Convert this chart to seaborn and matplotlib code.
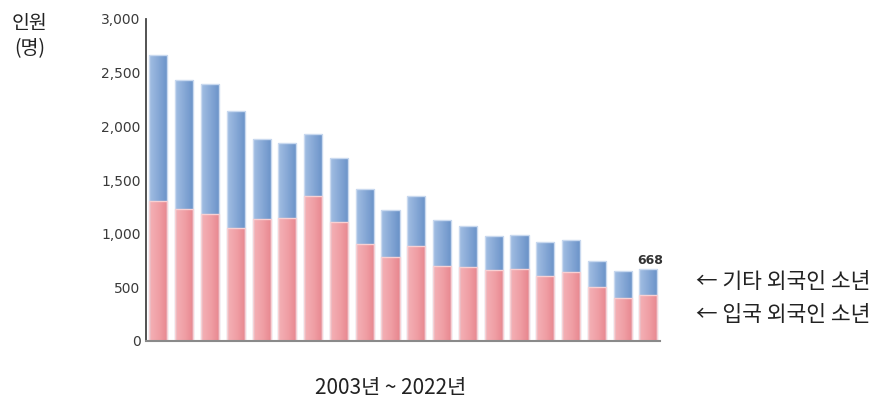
import numpy as np
import pandas as pd
import matplotlib
matplotlib.use("Agg")
import matplotlib.pyplot as plt
import seaborn as sns
from matplotlib.colors import LinearSegmentedColormap

# 2003~2022 juvenile foreign offenders
years = [str(y) for y in range(2003, 2023)]
entry = [1301, 1230, 1183, 1049, 1137, 1149, 1347, 1105, 904, 779,
         888, 696, 693, 665, 671, 609, 640, 504, 404, 429]
other = [1359, 1204, 1211, 1090, 747, 695, 581, 596, 515, 444,
         466, 428, 378, 310, 317, 313, 301, 238, 249, 239]
yticks = [0, 500, 1000, 1500, 2000, 2500, 3000]
last_label = "668"

df = pd.DataFrame({"year": years, "entry": entry, "other": other})
df["total"] = df["entry"] + df["other"]

sns.set_theme(style="white")
plt.rcParams["font.family"] = ["DejaVu Sans"]
kr = ["Noto Sans CJK KR", "DejaVu Sans"]

fig = plt.figure(figsize=(8.79, 4.0), dpi=100)
ax = fig.add_axes([0.1661, 0.1475, 0.5848, 0.805])

blue = "#7ea2d2"
red = "#ee9aa0"

sns.barplot(data=df, x="year", y="total", color=blue, width=0.7,
            edgecolor="#c9d9ef", linewidth=1.0, saturation=1, ax=ax)
n_blue = len(ax.patches)
sns.barplot(data=df, x="year", y="entry", color=red, width=0.7,
            edgecolor="#f8d0d3", linewidth=1.0, saturation=1, ax=ax)

# subtle left-to-right shading on every bar
grad = np.linspace(0, 1, 64).reshape(1, -1)
cm_blue = LinearSegmentedColormap.from_list("b", ["#a3bfe3", "#86a8d6", "#6a92c8"])
cm_red = LinearSegmentedColormap.from_list("r", ["#f4b2b7", "#f0a0a6", "#e8868e"])
for i, p in enumerate(ax.patches):
    x0, y0 = p.get_x(), p.get_y()
    w, h = p.get_width(), p.get_height()
    cm = cm_blue if i < n_blue else cm_red
    im = ax.imshow(grad, cmap=cm, aspect="auto", extent=[x0, x0 + w, y0, y0 + h],
                   zorder=p.get_zorder() + 0.1, interpolation="bilinear")
    im.set_clip_path(p)
    p.set_zorder(p.get_zorder() + 0.2)
    p.set_facecolor("none")

ax.set_xlim(-0.48, len(years) - 0.55)
ax.set_ylim(0, 3000)
ax.set_yticks(yticks)
ax.set_yticklabels([f"{v:,}" for v in yticks], fontsize=10, color="#3a3a3a")
ax.set_xticks([])
ax.set_xlabel("")
ax.set_ylabel("")
ax.tick_params(axis="y", direction="in", length=4, width=1.2, color="#444444", pad=4)

for s in ["top", "right"]:
    ax.spines[s].set_visible(False)
ax.spines["left"].set_color("#444444")
ax.spines["left"].set_linewidth(1.3)
ax.spines["bottom"].set_color("#8a8a8a")
ax.spines["bottom"].set_linewidth(1.5)

# value on last bar
last = len(years) - 1
ax.text(last + 0.05, df["total"].iloc[-1] + 25, last_label, ha="center", va="bottom",
        fontsize=9, fontweight="bold", color="#333333")

# side labels for the two series
ax.text(1.07, (df["entry"].iloc[-1] + df["total"].iloc[-1]) / 2, "← 기타 외국인 소년",
        transform=ax.get_yaxis_transform(), ha="left", va="center",
        fontsize=15.5, family=kr, color="#222222")
ax.text(1.07, df["entry"].iloc[-1] / 2 + 30, "← 입국 외국인 소년",
        transform=ax.get_yaxis_transform(), ha="left", va="center",
        fontsize=15.5, family=kr, color="#222222")

fig.text(0.034, 0.91, "인원\n(명)", ha="center", va="center", fontsize=14,
         family=kr, color="#222222", linespacing=1.3)
fig.text(0.444, 0.03, "2003년 ~ 2022년", ha="center", va="center", fontsize=15,
         family=kr, color="#222222")

fig.savefig("out.png", dpi=100)
